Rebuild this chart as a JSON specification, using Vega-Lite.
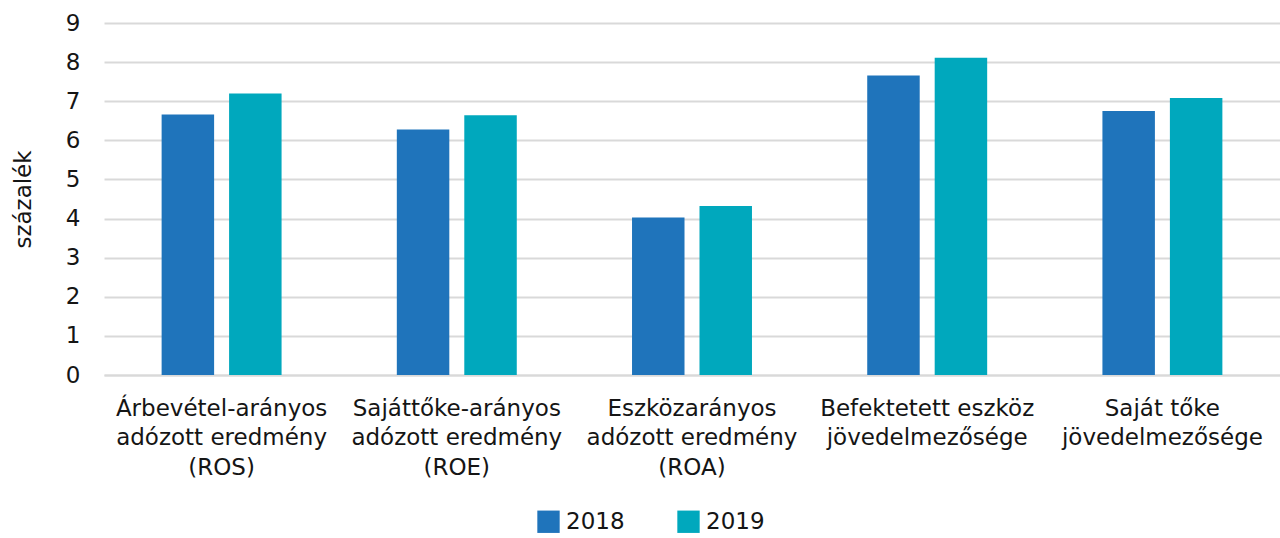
{
  "$schema": "https://vega.github.io/schema/vega-lite/v6.json",
  "autosize": {"type": "none"},
  "width": 1176,
  "height": 352,
  "padding": {"left": 104, "top": 23, "right": 0, "bottom": 163},
  "background": "white",
  "config": {
    "view": {"stroke": null},
    "font": "DejaVu Sans"
  },
  "data": {
    "values": [
      {"mutato": "Árbevétel-arányos|adózott eredmény|(ROS)", "ev": "2018", "ertek": 6.66},
      {"mutato": "Árbevétel-arányos|adózott eredmény|(ROS)", "ev": "2019", "ertek": 7.2},
      {"mutato": "Sajáttőke-arányos|adózott eredmény|(ROE)", "ev": "2018", "ertek": 6.28},
      {"mutato": "Sajáttőke-arányos|adózott eredmény|(ROE)", "ev": "2019", "ertek": 6.64},
      {"mutato": "Eszközarányos|adózott eredmény|(ROA)", "ev": "2018", "ertek": 4.03},
      {"mutato": "Eszközarányos|adózott eredmény|(ROA)", "ev": "2019", "ertek": 4.32},
      {"mutato": "Befektetett eszköz|jövedelmezősége", "ev": "2018", "ertek": 7.66},
      {"mutato": "Befektetett eszköz|jövedelmezősége", "ev": "2019", "ertek": 8.11},
      {"mutato": "Saját tőke|jövedelmezősége", "ev": "2018", "ertek": 6.75},
      {"mutato": "Saját tőke|jövedelmezősége", "ev": "2019", "ertek": 7.08}
    ]
  },
  "mark": {"type": "bar"},
  "encoding": {
    "x": {
      "field": "mutato",
      "type": "nominal",
      "sort": null,
      "title": null,
      "scale": {"paddingInner": 0.49, "paddingOuter": 0.245},
      "axis": {
        "labelAngle": 0,
        "labelExpr": "split(datum.label, '|')",
        "labelFontSize": 23,
        "labelColor": "#151515",
        "labelLineHeight": 29.5,
        "labelPadding": 22,
        "labelBaseline": "top",
        "ticks": false,
        "domain": true,
        "domainColor": "#d9d9d9",
        "domainWidth": 2,
        "labelLimit": 400
      }
    },
    "xOffset": {
      "field": "ev",
      "type": "nominal",
      "scale": {"paddingInner": 0.222, "paddingOuter": 0}
    },
    "y": {
      "field": "ertek",
      "type": "quantitative",
      "title": "százalék",
      "scale": {"domain": [0, 9]},
      "axis": {
        "values": [0, 1, 2, 3, 4, 5, 6, 7, 8, 9],
        "domain": false,
        "ticks": false,
        "gridColor": "#d9d9d9",
        "gridWidth": 2,
        "labelFontSize": 23,
        "labelColor": "#151515",
        "labelPadding": 24,
        "titleFontSize": 23,
        "titleFontWeight": "normal",
        "titleColor": "#151515",
        "titlePadding": 30
      }
    },
    "color": {
      "field": "ev",
      "type": "nominal",
      "title": null,
      "scale": {"domain": ["2018", "2019"], "range": ["#1f74bb", "#00a8bd"]},
      "legend": {
        "orient": "none",
        "legendX": 433,
        "legendY": 487,
        "direction": "horizontal",
        "symbolType": "square",
        "symbolSize": 500,
        "symbolStrokeWidth": 0,
        "labelFontSize": 23,
        "labelColor": "#151515",
        "columnPadding": 52,
        "labelOffset": 6
      }
    }
  }
}
